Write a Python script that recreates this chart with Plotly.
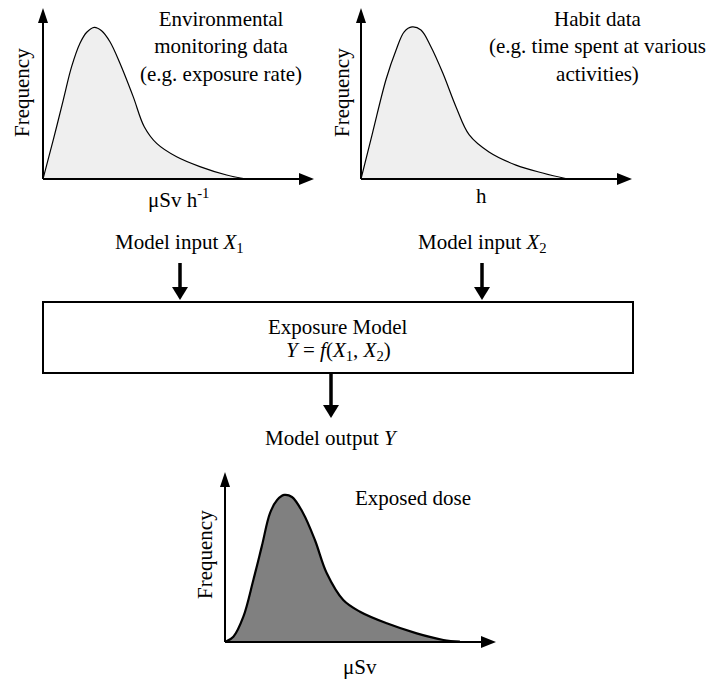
import plotly.graph_objects as go

# page body keeps its default 8 px margin, so the figure is drawn 8 px in
W, H = 716, 679
OFF = 8
FW, FH = W - OFF, H - OFF

# distribution curves (x in arbitrary units 0-10, y = relative frequency 0-1)
env_x = [0, 0.38, 0.75, 1.06, 1.37, 1.62, 1.90, 2.17, 2.48, 2.85, 3.34, 3.75, 4.21, 4.95, 5.81, 6.80, 7.54]
env_y = [0, 0.227, 0.459, 0.653, 0.789, 0.853, 0.882, 0.862, 0.798, 0.673, 0.479, 0.304, 0.207, 0.129, 0.072, 0.023, 0]

habit_x = [0, 0.43, 0.93, 1.30, 1.60, 1.89, 2.22, 2.59, 3.03, 3.52, 4.01, 4.74, 5.74, 6.73, 7.66]
habit_y = [0, 0.27, 0.58, 0.75, 0.856, 0.884, 0.866, 0.769, 0.616, 0.419, 0.256, 0.157, 0.081, 0.035, 0.0]

dose_x = [0, 0.31, 0.68, 1.05, 1.36, 1.67, 1.93, 2.19, 2.48, 2.89, 3.33, 3.77, 4.38, 5.0, 5.99, 7.10, 8.09, 8.70]
dose_y = [0, 0.031, 0.149, 0.365, 0.561, 0.759, 0.835, 0.865, 0.853, 0.759, 0.60, 0.404, 0.247, 0.178, 0.110, 0.051, 0.012, 0.002]

FONT = "Liberation Serif"


def px(x):
    return (x - OFF) / FW


def py(y):
    return 1 - (y - OFF) / FH


fig = go.Figure()

fig.add_trace(go.Scatter(x=env_x, y=env_y, mode="lines", line=dict(color="black", width=1.2, shape="spline"),
                         fill="tozeroy", fillcolor="#efefef", xaxis="x", yaxis="y"))
fig.add_trace(go.Scatter(x=habit_x, y=habit_y, mode="lines", line=dict(color="black", width=1.2, shape="spline"),
                         fill="tozeroy", fillcolor="#efefef", xaxis="x2", yaxis="y2"))
fig.add_trace(go.Scatter(x=dose_x, y=dose_y, mode="lines", line=dict(color="black", width=2.2, shape="spline"),
                         fill="tozeroy", fillcolor="#808080", xaxis="x3", yaxis="y3"))

shapes = []


def line(x0, y0, x1, y1, w):
    shapes.append(dict(type="line", xref="paper", yref="paper", x0=px(x0), y0=py(y0), x1=px(x1), y1=py(y1),
                       line=dict(color="black", width=w)))


def tri(pts):
    d = "M " + " L ".join(f"{px(a)} {py(b)}" for a, b in pts) + " Z"
    shapes.append(dict(type="path", xref="paper", yref="paper", path=d, fillcolor="black",
                       line=dict(color="black", width=0)))


def axes(x0, y0, xend, ytop):
    line(x0, y0, x0, ytop + 10, 2)
    tri([(x0, ytop), (x0 - 5, ytop + 15), (x0 + 5, ytop + 15)])
    line(x0, y0, xend - 10, y0, 2)
    tri([(xend, y0), (xend - 15, y0 - 6), (xend - 15, y0 + 6)])


def down_arrow(x, y0, y1):
    line(x, y0, x, y1 - 10, 3.5)
    tri([(x, y1), (x - 8, y1 - 13), (x + 8, y1 - 13)])


axes(43, 179, 314, 8)
axes(361, 179, 632, 8)
axes(225, 642, 496, 472)
down_arrow(180, 263, 300)
down_arrow(482, 263, 300)
down_arrow(331, 373, 418)
shapes.append(dict(type="rect", xref="paper", yref="paper", x0=px(43), y0=py(373), x1=px(633), y1=py(302),
                   line=dict(color="black", width=2)))

texts = [
    (221, 46, "Environmental<br>monitoring data<br>(e.g. exposure rate)", 0),
    (597, 46, "Habit data<br>(e.g. time spent at various<br>activities)", 0),
    (22, 93, "Frequency", -90),
    (342, 93, "Frequency", -90),
    (205, 555, "Frequency", -90),
    (178, 198, "μSv h<sup>-1</sup>", 0),
    (481, 196, "h", 0),
    (179, 243, "Model input <i>X</i><sub>1</sub>", 0),
    (482, 243, "Model input <i>X</i><sub>2</sub>", 0),
    (338, 327, "Exposure Model", 0),
    (338, 351, "<i>Y</i> = <i>f</i>(<i>X</i><sub>1</sub>, <i>X</i><sub>2</sub>)", 0),
    (331, 438, "Model output <i>Y</i>", 0),
    (413, 498, "Exposed dose", 0),
    (360, 667, "μSv", 0),
]
annotations = [dict(x=px(x), y=py(y), xref="paper", yref="paper", text=t, showarrow=False, textangle=a,
                    xanchor="center", yanchor="middle", font=dict(family=FONT, size=21, color="black"))
               for x, y, t, a in texts]

hid = dict(visible=False, fixedrange=True)
fig.update_layout(
    width=FW, height=FH,
    margin=dict(l=0, r=0, t=0, b=0),
    paper_bgcolor="white", plot_bgcolor="rgba(0,0,0,0)",
    showlegend=False,
    xaxis=dict(domain=[px(43), px(313)], range=[0, 10], **hid),
    yaxis=dict(domain=[py(179), py(9)], range=[0, 170 / 172], **hid),
    xaxis2=dict(domain=[px(361), px(631)], range=[0, 10], **hid),
    yaxis2=dict(domain=[py(179), py(9)], range=[0, 170 / 172], **hid),
    xaxis3=dict(domain=[px(225), px(495)], range=[0, 10], **hid),
    yaxis3=dict(domain=[py(642), py(472)], range=[0, 1], **hid),
    shapes=shapes,
    annotations=annotations,
)

fig.write_html("out.html")
